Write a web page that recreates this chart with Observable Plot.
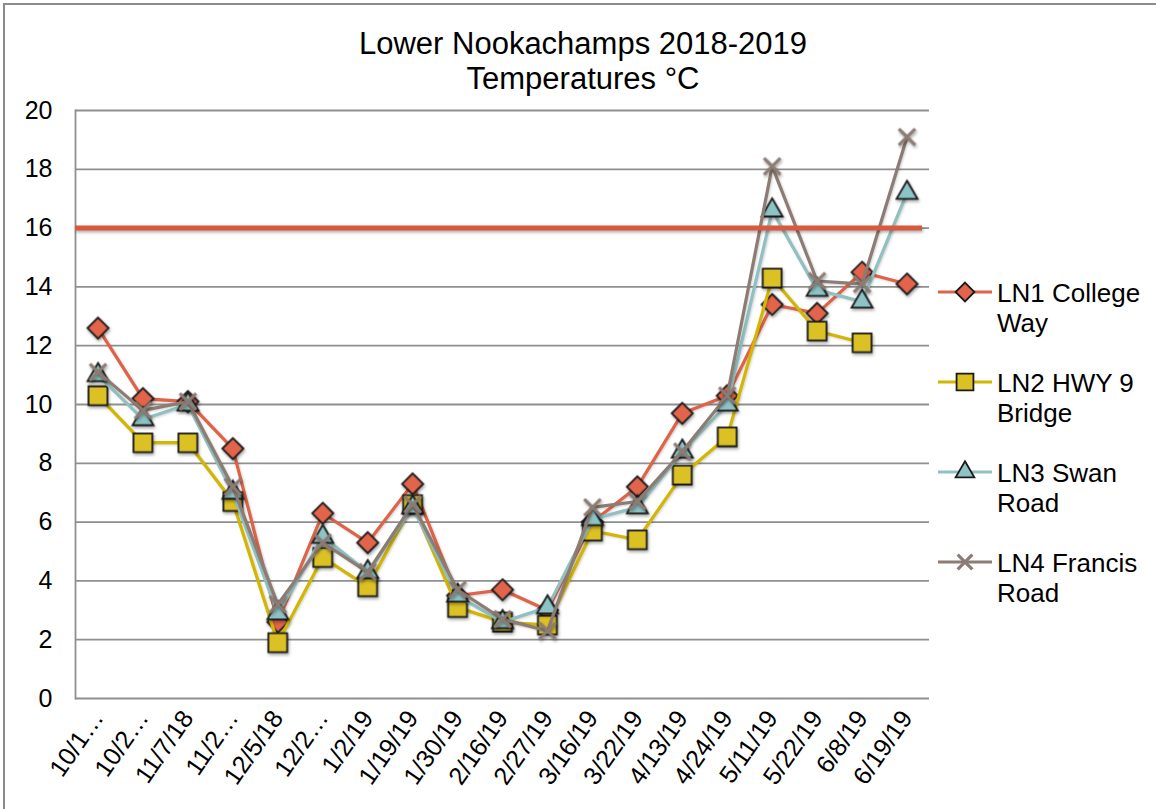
<!DOCTYPE html>
<html>
<head>
<meta charset="utf-8">
<script src="https://cdn.jsdelivr.net/npm/d3@7"></script>
<script src="https://cdn.jsdelivr.net/npm/@observablehq/plot@0.6"></script>
<style>
  html, body { margin: 0; padding: 0; background: #fff; overflow: hidden; }
  body { width: 1156px; height: 809px; position: relative; font-family: "Liberation Sans", Arial, sans-serif; color: #000; }
  #border { position: absolute; left: 3px; top: 3px; width: 1200px; height: 900px; border: 2px solid #8c8c8c; box-sizing: border-box; }
  #title { position: absolute; left: 283px; width: 600px; top: 26px; text-align: center; font-size: 31px; line-height: 35px; }
  #chart { position: absolute; left: 0; top: 0; }
  #chart svg { overflow: visible; }
  #legend .item { position: absolute; left: 937px; }
  #legend .item svg { position: absolute; left: 0; top: 0; }
  #legend .item div { position: absolute; left: 60px; top: 0; width: 170px; font-size: 26px; line-height: 30px; }
  g[aria-label="dot"] { filter: drop-shadow(1px 2px 1.5px rgba(0,0,0,0.35)); }
  g[aria-label="line"] { filter: drop-shadow(1px 1.5px 1px rgba(0,0,0,0.18)); }
  g[aria-label="rule"] { filter: drop-shadow(1px 2px 1.5px rgba(0,0,0,0.3)); }
</style>
</head>
<body>
<div id="border"></div>
<div id="title">Lower Nookachamps 2018-2019<br>Temperatures °C</div>
<div id="chart"></div>
<div id="legend"></div>
<script>
// ---- data ----
const dates = ["10/1…", "10/2…", "11/7/18", "11/2…", "12/5/18", "12/2…", "1/2/19", "1/19/19", "1/30/19", "2/16/19", "2/27/19", "3/16/19", "3/22/19", "4/13/19", "4/24/19", "5/11/19", "5/22/19", "6/8/19", "6/19/19"];
const ln1 = [12.6, 10.2, 10.1, 8.5, 2.6, 6.3, 5.3, 7.3, 3.5, 3.7, 3.0, 6.0, 7.2, 9.7, 10.3, 13.4, 13.1, 14.5, 14.1];
const ln2 = [10.3, 8.7, 8.7, 6.7, 1.9, 4.8, 3.8, 6.6, 3.1, 2.6, 2.5, 5.7, 5.4, 7.6, 8.9, 14.3, 12.5, 12.1, null];
const ln3 = [11.0, 9.5, 10.0, 7.0, 2.9, 5.5, 4.3, 6.5, 3.5, 2.6, 3.1, 6.1, 6.5, 8.4, 10.0, 16.6, 13.9, 13.5, 17.2];
const ln4 = [11.1, 9.8, 10.1, 7.2, 3.2, 5.3, 4.3, 6.6, 3.7, 2.7, 2.3, 6.5, 6.7, 8.4, 10.3, 18.1, 14.2, 14.1, 19.1];
const threshold = [16];
const yTicks = [0, 2, 4, 6, 8, 10, 12, 14, 16, 18, 20];
const legendLines = [["LN1 College", "Way"], ["LN2 HWY 9", "Bridge"], ["LN3 Swan", "Road"], ["LN4 Francis", "Road"]];

// ---- styles ----
const series = [
  {values: ln1, line: "#de6449", fill: "#e2644a", symbol: "diamond2", r: 9.5, stroke: "#1a1a1a", sw: 1.8},
  {values: ln2, line: "#d2b600", fill: "#dcc124", symbol: "square2", r: 12, stroke: "#1a1a1a", sw: 1.8},
  {values: ln3, line: "#90c0c1", fill: "#8ec3c5", symbol: "triangle2", r: 10, stroke: "#1a1a1a", sw: 1.8},
  {values: ln4, line: "#8c7c73", fill: "none", symbol: "times", r: 7.5, stroke: "#8c7c73", sw: 3.2}
];

const marks = [
  Plot.gridY(yTicks, {stroke: "#8f8f8f", strokeOpacity: 1, strokeWidth: 1.8}),
  Plot.frame({anchor: "left", stroke: "#8f8f8f", strokeWidth: 1.8}),
  Plot.axisY(yTicks, {tickSize: 0, tickPadding: 23, fontSize: 25, fill: "#000"}),
  Plot.axisX({tickSize: 0, tickPadding: 15, tickRotate: -55, fontSize: 25, fill: "#000"})
];
for (const s of series) {
  marks.push(Plot.line(dates, {x: d => d, y: (d, i) => s.values[i], stroke: s.line, strokeWidth: 3.2, curve: "linear"}));
  marks.push(Plot.dot(dates, {
    filter: (d, i) => s.values[i] != null,
    x: d => d, y: (d, i) => s.values[i],
    symbol: () => s.symbol, r: s.r,
    fill: s.fill, stroke: s.stroke, strokeWidth: s.sw
  }));
}
marks.push(Plot.ruleY(threshold, {stroke: "#d9593d", strokeWidth: 5, insetRight: 7}));

const chart = Plot.plot({
  width: 1156,
  height: 809,
  marginLeft: 75,
  marginRight: 227,
  marginTop: 110,
  marginBottom: 111,
  style: {fontFamily: "'Liberation Sans', Arial, sans-serif", background: "transparent", color: "#000"},
  x: {type: "point", domain: dates, padding: 0.5, round: false, label: null},
  y: {domain: [0, 20], label: null},
  symbol: {type: "identity"},
  marks
});
document.getElementById("chart").appendChild(chart);

// ---- legend ----
const legend = document.getElementById("legend");
const tops = [278, 368, 458, 548];
const symMap = {diamond2: d3.symbolDiamond2, square2: d3.symbolSquare2, triangle2: d3.symbolTriangle2, times: d3.symbolTimes};
series.forEach((s, k) => {
  const item = document.createElement("div");
  item.className = "item";
  item.style.top = tops[k] + "px";
  const svg = d3.create("svg").attr("width", 60).attr("height", 30);
  svg.append("line").attr("x1", 1).attr("x2", 55).attr("y1", 14).attr("y2", 14)
    .attr("stroke", s.line).attr("stroke-width", 3.2);
  svg.append("path").attr("transform", "translate(28,14)")
    .attr("d", d3.symbol(symMap[s.symbol], Math.PI * s.r * s.r * 0.8)())
    .attr("fill", s.fill).attr("stroke", s.stroke).attr("stroke-width", s.sw);
  item.appendChild(svg.node());
  const label = document.createElement("div");
  label.innerHTML = legendLines[k].join("<br>");
  item.appendChild(label);
  legend.appendChild(item);
});
</script>
</body>
</html>
